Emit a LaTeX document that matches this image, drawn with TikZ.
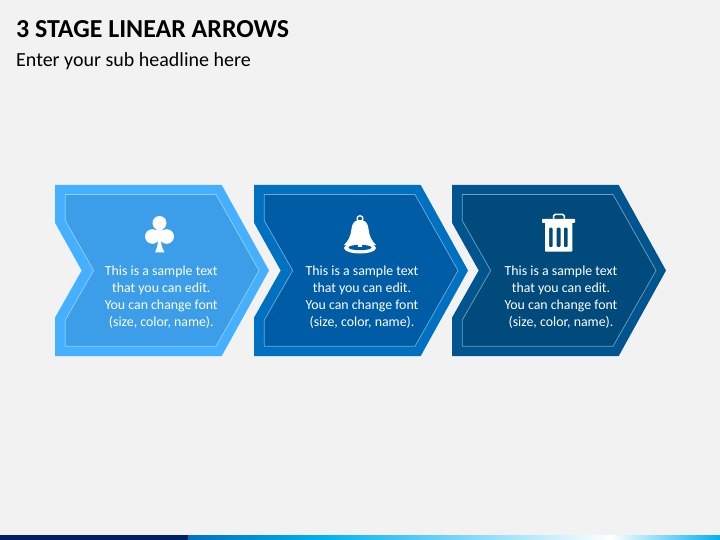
\documentclass[tikz,border=0pt]{standalone}
\usepackage{fontspec}
\setmainfont{Carlito}
\definecolor{bgc}{HTML}{F2F2F2}
\definecolor{oa}{HTML}{45B0FF}\definecolor{ia}{HTML}{3C9EE8}
\definecolor{ob}{HTML}{0070C0}\definecolor{ib}{HTML}{005CA4}
\definecolor{oc}{HTML}{00558F}\definecolor{ic}{HTML}{004A7C}
\definecolor{bara}{HTML}{002060}\definecolor{barb}{HTML}{0070C0}\definecolor{barc}{HTML}{00B0F0}
\tikzset{
  x=1pt,y=-1pt,
  bodytext/.style={text=white,align=center,font=\fontsize{13.85}{17}\selectfont,inner sep=0pt},
  titletext/.style={anchor=west,inner sep=0pt},
  innerline/.style={draw=white,draw opacity=.45,line width=.7pt},
  glyph/.style={fill=white,draw=none}
}
\newcommand{\stagearrow}[3]{%
  \begin{scope}[xshift=#1pt]
  \fill[#2] (55,185)--(221.7,185)--(269,270.5)--(221.7,356)--(55,356)--(55,317.7)--(81.7,270.5)--(55,222.7)--cycle;
  \path[fill=#3,innerline] (65.3,194.5)--(216,194.5)--(259,270.5)--(216,346.3)--(65.3,346.3)--(65.3,320)--(93.7,270.5)--(65.3,220.7)--cycle;
  \end{scope}}
\begin{document}
\begin{tikzpicture}
\useasboundingbox (0,0) rectangle (720,540);
\fill[bgc] (0,0) rectangle (720,540);
\node[titletext,font=\bfseries\fontsize{25.9}{30}\selectfont,text=black] (title) at (16,29) {3 STAGE LINEAR ARROWS};
\node[titletext,font=\fontsize{20}{24}\selectfont,text=black] (sub) at (16,61) {Enter your sub headline here};
\stagearrow{0}{oa}{ia}
\stagearrow{199}{ob}{ib}
\stagearrow{397}{oc}{ic}
\node[bodytext] (ta) at (161.3,297.5) {This is a sample text\\that you can edit.\\You can change font\\(size, color, name).};
\node[bodytext] (tb) at (362,297.5) {This is a sample text\\that you can edit.\\You can change font\\(size, color, name).};
\node[bodytext] (tc) at (561,297.5) {This is a sample text\\that you can edit.\\You can change font\\(size, color, name).};
% club
\fill[glyph] (159.5,223) circle (7);
\fill[glyph] (152.3,236.5) circle (7.3);
\fill[glyph] (166.7,236.5) circle (7.3);
\fill[glyph] (159.5,232) circle (4);
\fill[glyph] (158.3,234) .. controls (158.3,242) and (157.5,248) .. (155,252.3)--(164.5,252.3) .. controls (161.5,248) and (160.7,242) .. (160.7,234)--cycle;
% bell
\draw[white,line width=1.3pt] (360,218.6) circle (2.9);
\fill[glyph] (360,220) .. controls (365.5,220) and (368,223) .. (368.7,230) .. controls (369.5,237) and (372,241) .. (376,245)--(344,245) .. controls (348,241) and (350.5,237) .. (351.3,230) .. controls (352,223) and (354.5,220) .. (360,220)--cycle;
\fill[white] (360,248) ellipse (16 and 5.5);
\fill[ib] (360,247.5) ellipse (11.5 and 2.7);
\fill[white] (358.1,241) rectangle (361.9,247);
% trash
\fill[glyph,even odd rule,rounded corners=.8pt] (545,222)--(572.3,222)--(572.3,251.7)--(545,251.7)--cycle
 (549,227.7)--(552.7,227.7)--(552.7,247)--(549,247)--cycle
 (556.7,227.7)--(560.5,227.7)--(560.5,247)--(556.7,247)--cycle
 (563.8,227.7)--(567.6,227.7)--(567.6,247)--(563.8,247)--cycle;
\fill[glyph,rounded corners=.6pt] (542,219)--(575,219)--(575,222.8)--(542,222.8)--cycle;
\draw[white,line width=1.5pt,rounded corners=1.5pt] (553.5,219)--(553.5,214.5)--(564.3,214.5)--(564.3,219);
% bottom bar
\fill[bara] (0,535) rectangle (188,540);
\shade[left color=barb,right color=barc] (188,535) rectangle (320,540);
\shade[left color=barc,right color=white] (320,535) rectangle (610,540);
\shade[left color=white,right color=barc] (610,535) rectangle (720,540);
\end{tikzpicture}
\end{document}
